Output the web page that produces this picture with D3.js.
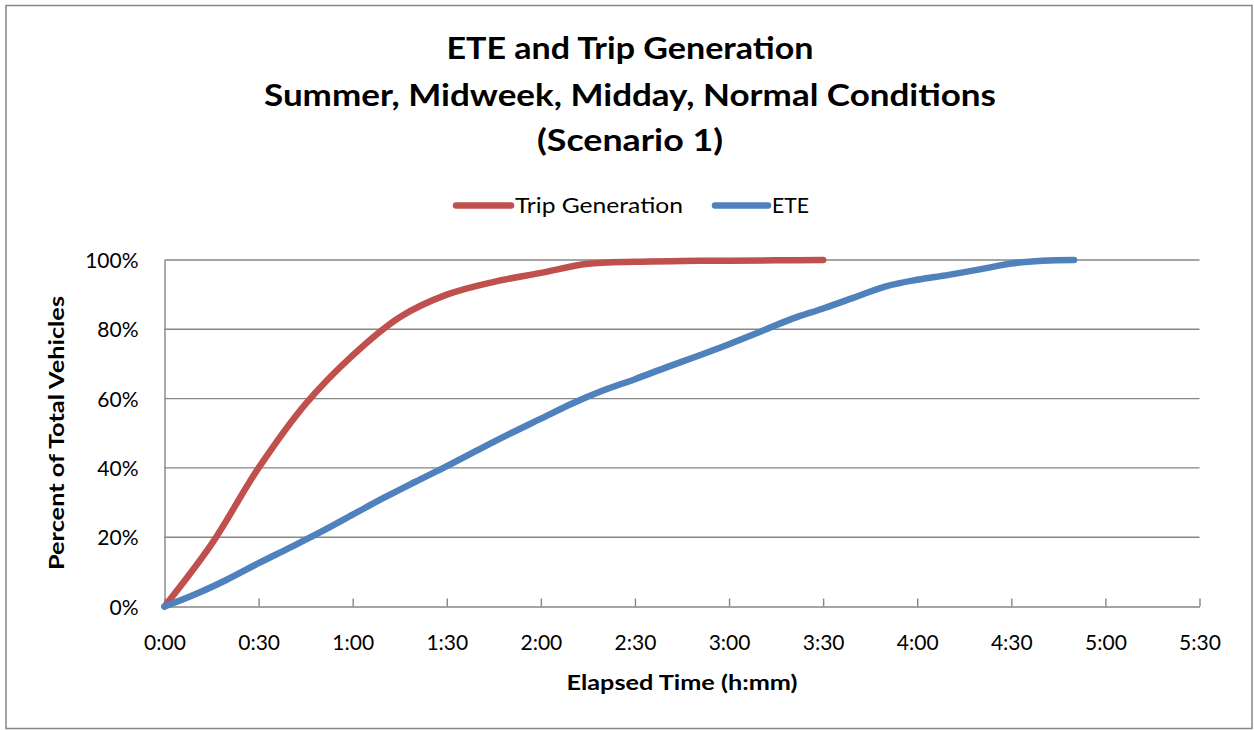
<!DOCTYPE html>
<html>
<head>
<meta charset="utf-8">
<script src="https://cdn.jsdelivr.net/npm/d3@7"></script>
<style>
  html, body { margin: 0; padding: 0; background: #fff; }
  svg { display: block; }
  text { font-family: Lato, "Open Sans", "Liberation Sans", sans-serif; fill: #000; }
</style>
</head>
<body>
<svg id="chart" width="1254" height="730"></svg>
<script>
// Elapsed time (minutes) for each series
const tripTimes = [0, 15, 30, 45, 60, 75, 90, 105, 120, 135, 150, 165, 180, 195, 210];
const tripPct   = [0, 18, 40, 58.5, 72.5, 83.5, 90, 93.7, 96.3, 98.9, 99.5, 99.7, 99.8, 99.9, 100];

const eteTimes = [0, 10, 20, 30, 40, 50, 60, 70, 80, 90, 100, 110, 120, 130, 140, 150,
                  160, 170, 180, 190, 200, 210, 220, 230, 240, 250, 260, 270, 280, 290];
const etePct   = [0, 3.6, 7.8, 12.5, 17, 21.6, 26.5, 31.4, 36, 40.5, 45.2, 49.8, 54.2, 58.6, 62.4, 65.6,
                  69, 72.3, 75.7, 79.3, 83, 86, 89.2, 92.4, 94.3, 95.7, 97.3, 99, 99.8, 100];

const xTickValues = [0, 30, 60, 90, 120, 150, 180, 210, 240, 270, 300, 330];
const xTickLabels = ["0:00", "0:30", "1:00", "1:30", "2:00", "2:30", "3:00", "3:30", "4:00", "4:30", "5:00", "5:30"];
const yTickValues = [0, 20, 40, 60, 80, 100];
const yTickLabels = ["0%", "20%", "40%", "60%", "80%", "100%"];

const seriesNames = ["Trip Generation", "ETE"];
const seriesColors = ["#C0504D", "#4F81BD"];
const titleLines = ["ETE and Trip Generation", "Summer, Midweek, Midday, Normal Conditions", "(Scenario 1)"];

const svg = d3.select("#chart");
const gridColor = "#868686";

// outer chart frame
svg.append("rect")
  .attr("x", 6).attr("y", 5.5).attr("width", 1246).attr("height", 723)
  .attr("fill", "#fff").attr("stroke", gridColor).attr("stroke-width", 1.5);

const x = d3.scaleLinear().domain([0, 330]).range([164.5, 1199.5]);
const y = d3.scaleLinear().domain([0, 100]).range([606.5, 260]);

// horizontal gridlines
svg.append("g")
  .selectAll("line")
  .data(yTickValues.filter(v => v > 0))
  .join("line")
  .attr("x1", x(0)).attr("x2", x(330))
  .attr("y1", d => y(d)).attr("y2", d => y(d))
  .attr("stroke", gridColor).attr("stroke-width", 1.4);

// y axis (line only) with labels
const yAxis = d3.axisLeft(y)
  .tickValues(yTickValues)
  .tickSize(0)
  .tickPadding(26)
  .tickFormat((d, i) => yTickLabels[i]);
const gy = svg.append("g").attr("transform", `translate(${x(0)},0)`).call(yAxis);
gy.select(".domain").attr("stroke", gridColor).attr("stroke-width", 1.4);
gy.selectAll("text")
  .style("font-size", "21px")
  .attr("dy", "0.36em");

// x axis: ticks pointing into the plot
const xAxis = d3.axisBottom(x)
  .tickValues(xTickValues)
  .tickSize(-8)
  .tickSizeOuter(0)
  .tickPadding(0)
  .tickFormat((d, i) => xTickLabels[i]);
const gx = svg.append("g").attr("transform", `translate(0,${y(0)})`).call(xAxis);
gx.select(".domain").attr("stroke", gridColor).attr("stroke-width", 1.4);
gx.selectAll(".tick line").attr("stroke", gridColor).attr("stroke-width", 1.4);
gx.selectAll("text")
  .style("font-size", "21px")
  .attr("y", 43)
  .attr("dy", 0);

// series lines (smoothed)
const line = d3.line()
  .x(d => x(d[0]))
  .y(d => y(Math.min(100, d[1])))
  .curve(d3.curveCatmullRom.alpha(0.5));

const series = [
  { name: seriesNames[0], color: seriesColors[0], pts: tripTimes.map((t, i) => [t, tripPct[i]]) },
  { name: seriesNames[1], color: seriesColors[1], pts: eteTimes.map((t, i) => [t, etePct[i]]) }
];

svg.append("g")
  .selectAll("path")
  .data(series)
  .join("path")
  .attr("d", d => line(d.pts))
  .attr("fill", "none")
  .attr("stroke", d => d.color)
  .attr("stroke-width", 6.5)
  .attr("stroke-linecap", "round")
  .attr("stroke-linejoin", "round");

// title
const titleY = [59, 106, 151];
const titleW = [367, 732, 186];
svg.append("g")
  .selectAll("text")
  .data(titleLines)
  .join("text")
  .attr("x", 630)
  .attr("y", (d, i) => titleY[i])
  .attr("text-anchor", "middle")
  .attr("textLength", (d, i) => titleW[i])
  .attr("lengthAdjust", "spacingAndGlyphs")
  .style("font-size", "30px")
  .style("font-weight", "bold")
  .text(d => d);

// legend
const legend = [
  { x1: 456, x2: 511, tx: 515, tw: 168 },
  { x1: 715, x2: 768, tx: 772, tw: 37 }
];
const lg = svg.append("g");
series.forEach((s, i) => {
  const L = legend[i];
  lg.append("line")
    .attr("x1", L.x1).attr("x2", L.x2)
    .attr("y1", 205.5).attr("y2", 205.5)
    .attr("stroke", s.color).attr("stroke-width", 6.5).attr("stroke-linecap", "round");
  lg.append("text")
    .attr("x", L.tx).attr("y", 213)
    .attr("textLength", L.tw)
    .attr("lengthAdjust", "spacingAndGlyphs")
    .style("font-size", "21px")
    .text(s.name);
});

// axis titles
svg.append("text")
  .attr("x", 682).attr("y", 690)
  .attr("text-anchor", "middle")
  .attr("textLength", 231)
  .attr("lengthAdjust", "spacingAndGlyphs")
  .style("font-size", "20px")
  .style("font-weight", "bold")
  .text("Elapsed Time (h:mm)");

svg.append("text")
  .attr("transform", "translate(64,433) rotate(-90)")
  .attr("text-anchor", "middle")
  .attr("textLength", 274)
  .attr("lengthAdjust", "spacingAndGlyphs")
  .style("font-size", "20px")
  .style("font-weight", "bold")
  .text("Percent of Total Vehicles");
</script>
</body>
</html>
